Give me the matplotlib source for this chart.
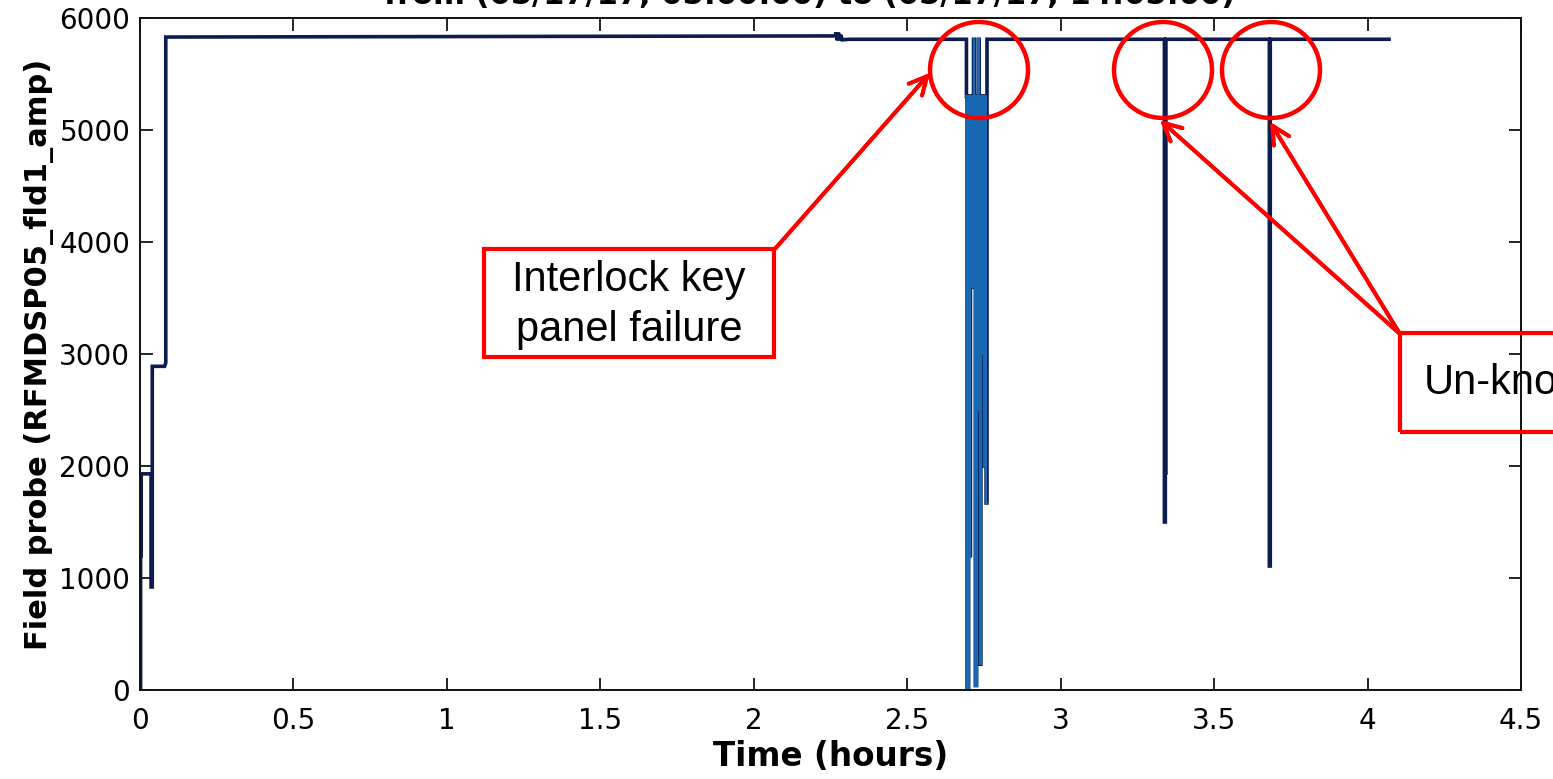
import matplotlib
matplotlib.use("Agg")
import matplotlib.pyplot as plt
from matplotlib.patches import Ellipse, Rectangle

# field probe trace (hours, amplitude)
t_startup = [0.000, 0.002, 0.002, 0.004, 0.004, 0.036, 0.036, 0.040, 0.040, 0.080, 0.084, 0.084]
v_startup = [0, 0, 1200, 1200, 1930, 1930, 920, 920, 2890, 2890, 2920, 5830]

t_flat = [2.264, 2.268, 2.272, 2.276, 2.280, 2.284, 2.288, 2.310]
v_flat = [5840, 5870, 5800, 5870, 5800, 5850, 5805, 5810]

t_interlock = [2.693, 2.693, 2.695, 2.695, 2.700, 2.700, 2.703, 2.703, 2.706, 2.706,
               2.709, 2.709, 2.713, 2.713, 2.716, 2.716, 2.719, 2.719, 2.722, 2.722,
               2.726, 2.726, 2.729, 2.729, 2.732, 2.732, 2.734, 2.734, 2.737, 2.737,
               2.740, 2.740, 2.744, 2.744, 2.747, 2.747, 2.750, 2.750, 2.754, 2.754,
               2.757, 2.757, 2.760, 2.760]
v_interlock = [5810, 5300, 5300, 0, 0, 5300, 5300, 1200, 1200, 5300,
               5300, 3600, 3600, 5300, 5300, 5810, 5810, 5300, 5300, 40,
               40, 5300, 5300, 2500, 2500, 5810, 5810, 5300, 5300, 230,
               230, 5300, 5300, 3000, 3000, 5300, 5300, 2000, 2000, 5300,
               5300, 1670, 1670, 5810]

t_unknown = [3.338, 3.338, 3.341, 3.341, 3.343, 3.343, 3.680, 3.680, 3.683, 3.683, 4.070]
v_unknown = [5810, 1500, 1500, 1940, 1940, 5810, 5810, 1107, 1107, 5810, 5810]

x_ticks = [0, 0.5, 1, 1.5, 2, 2.5, 3, 3.5, 4, 4.5]
x_ticklabels = ["0", "0.5", "1", "1.5", "2", "2.5", "3", "3.5", "4", "4.5"]
y_ticks = [0, 1000, 2000, 3000, 4000, 5000, 6000]

title = "from (05/17/17, 05:00:00) to (05/17/17, 14:05:00)"

W, H = 1553, 779


def fx(x):
    return x / W


def fy(y):
    return 1 - y / H


fig = plt.figure(figsize=(W / 100, H / 100), dpi=100)
ax = fig.add_axes([fx(140), fy(690), fx(1521) - fx(140), fy(18) - fy(690)])

t_all = t_startup + t_flat + t_interlock + t_unknown
v_all = v_startup + v_flat + v_interlock + v_unknown
ax.plot(t_all, v_all, color="#0c1c4e", lw=2.6, solid_joinstyle="miter")
ax.plot(t_interlock[1:-1], v_interlock[1:-1], color="#1767b3", lw=1.6)

ax.set_xlim(0, 4.5)
ax.set_ylim(0, 6000)
ax.set_xticks(x_ticks)
ax.set_xticklabels(x_ticklabels)
ax.set_yticks(y_ticks)
ax.tick_params(direction="in", top=True, right=True, length=9, width=1.2,
               labelsize=20, pad=7)
ax.tick_params(axis="x", pad=12)
for s in ax.spines.values():
    s.set_linewidth(1.4)
    s.set_color("#111111")
ax.set_xlabel("Time (hours)", fontsize=23.5, fontweight="bold", labelpad=4)
ax.set_ylabel("Field probe (RFMDSP05_fld1_amp)", fontsize=22, fontweight="bold", labelpad=4)

# title is cut off at the top of the image
fig.text(fx(810), fy(4), title, ha="center", va="baseline", fontsize=22, fontweight="bold")

red = "#ff0000"
# circles around the trips
for cx in [979, 1163, 1271]:
    fig.patches.append(Ellipse((fx(cx), fy(70)), 98 / W, 96 / H, transform=fig.transFigure,
                               fill=False, edgecolor=red, lw=3.2))

# text boxes
fig.patches.append(Rectangle((fx(484), fy(357)), fx(774) - fx(484), fy(249) - fy(357),
                             transform=fig.transFigure, fill=False, edgecolor=red, lw=3))
fig.text(fx(629), fy(305), "Interlock key\npanel failure", ha="center", va="center",
         fontsize=30, family="Liberation Sans", linespacing=1.3)

fig.patches.append(Rectangle((fx(1400), fy(432)), fx(1700) - fx(1400), fy(333) - fy(432),
                             transform=fig.transFigure, fill=False, edgecolor=red, lw=3))
fig.text(fx(1424), fy(383), "Un-known", ha="left", va="center",
         fontsize=30, family="Liberation Sans")

# arrows
arrows = [((774, 250), (930, 73)), ((1400, 334), (1160, 120)), ((1400, 334), (1270, 122))]
for (x0, y0), (x1, y1) in arrows:
    fig.add_artist(plt.annotate("", xy=(x1, H - y1), xytext=(x0, H - y0),
                                xycoords="figure pixels", textcoords="figure pixels",
                                arrowprops=dict(arrowstyle="->", color=red, lw=2.8,
                                                mutation_scale=32, shrinkA=0, shrinkB=0)))

fig.savefig("out.png", dpi=100)
